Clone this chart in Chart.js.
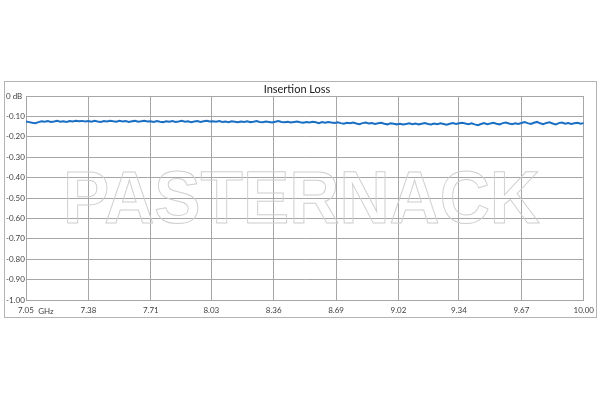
<!DOCTYPE html>
<html><head><meta charset="utf-8">
<script src="https://cdn.jsdelivr.net/npm/chart.js@4/dist/chart.umd.min.js"></script>
<style>html,body{margin:0;padding:0;background:#fff;}canvas{display:block;}</style>
</head><body>
<canvas id="c" width="600" height="400"></canvas>
<script>
const chartTitle = "Insertion Loss";
const watermarkText = "PASTERNACK";
const xUnit = "GHz";
const freqStart = 7.05;
const freqStop = 10.00;
const xTickValues = [7.05, 7.38, 7.71, 8.03, 8.36, 8.69, 9.02, 9.34, 9.67, 10.00];
const xTickLabels = ["7.05", "7.38", "7.71", "8.03", "8.36", "8.69", "9.02", "9.34", "9.67", "10.00"];
const yTickValues = [0, -0.1, -0.2, -0.3, -0.4, -0.5, -0.6, -0.7, -0.8, -0.9, -1.0];
const yTickLabels = ["0 dB", "-0.10", "-0.20", "-0.30", "-0.40", "-0.50", "-0.60", "-0.70", "-0.80", "-0.90", "-1.00"];
const insertionLoss = [
-0.125,-0.128,-0.131,-0.133,-0.128,-0.124,-0.126,-0.123,-0.127,-0.125,-0.122,-0.126,-0.124,-0.127,-0.123,-0.125,-0.121,-0.124,-0.122,-0.125,
-0.123,-0.126,-0.122,-0.125,-0.127,-0.123,-0.125,-0.121,-0.124,-0.126,-0.122,-0.125,-0.123,-0.127,-0.124,-0.122,-0.126,-0.124,-0.121,-0.125,
-0.124,-0.127,-0.123,-0.126,-0.128,-0.124,-0.126,-0.123,-0.127,-0.125,-0.122,-0.126,-0.124,-0.128,-0.125,-0.123,-0.127,-0.124,-0.121,-0.125,
-0.124,-0.126,-0.123,-0.127,-0.125,-0.128,-0.124,-0.126,-0.129,-0.125,-0.127,-0.124,-0.128,-0.126,-0.123,-0.127,-0.129,-0.125,-0.127,-0.130,
-0.126,-0.123,-0.127,-0.129,-0.126,-0.130,-0.127,-0.125,-0.129,-0.131,-0.127,-0.130,-0.126,-0.129,-0.133,-0.128,-0.131,-0.127,-0.130,-0.132,
-0.129,-0.133,-0.136,-0.131,-0.134,-0.130,-0.135,-0.138,-0.133,-0.130,-0.135,-0.132,-0.137,-0.134,-0.131,-0.136,-0.139,-0.134,-0.136,-0.139,
-0.136,-0.140,-0.137,-0.134,-0.138,-0.135,-0.139,-0.136,-0.133,-0.137,-0.140,-0.135,-0.138,-0.134,-0.137,-0.141,-0.136,-0.133,-0.137,-0.134,
-0.131,-0.135,-0.138,-0.134,-0.139,-0.143,-0.137,-0.133,-0.138,-0.135,-0.131,-0.136,-0.139,-0.133,-0.130,-0.135,-0.138,-0.134,-0.137,-0.132,
-0.128,-0.133,-0.137,-0.131,-0.127,-0.134,-0.138,-0.132,-0.129,-0.135,-0.139,-0.133,-0.130,-0.136,-0.132,-0.137,-0.134,-0.131,-0.136,-0.133
];
const points = insertionLoss.map((v, i) => ({
  x: freqStart + (freqStop - freqStart) * i / (insertionLoss.length - 1),
  y: v
}));

const gridColor = '#a6a6a6';
const textColor = '#404040';
const fontFamily = 'Lato, "Open Sans", sans-serif';

const decor = {
  id: 'decor',
  beforeDraw(chart) {
    const ctx = chart.ctx;
    ctx.save();
    ctx.fillStyle = '#fff';
    ctx.fillRect(0, 0, chart.width, chart.height);
    ctx.strokeStyle = '#b4b4b4';
    ctx.lineWidth = 1;
    ctx.strokeRect(4.5, 81.5, 592, 236);
    ctx.restore();
  },
  beforeDatasetsDraw(chart) {
    const ctx = chart.ctx;
    ctx.save();
    ctx.font = 'bold 74px "Liberation Sans", Arial, sans-serif';
    ctx.textBaseline = 'alphabetic';
    const w = ctx.measureText(watermarkText).width;
    const targetW = 477;
    ctx.translate(63, 223);
    ctx.scale(targetW / w, 1);
    ctx.strokeStyle = '#cfcfcf';
    ctx.lineWidth = 1;
    ctx.strokeText(watermarkText, 0, 0);
    ctx.restore();
  },
  afterDraw(chart) {
    const ctx = chart.ctx;
    ctx.save();
    ctx.fillStyle = '#202020';
    ctx.font = '11px ' + fontFamily;
    ctx.textAlign = 'center';
    ctx.textBaseline = 'middle';
    ctx.fillText(chartTitle, 297, 89);
    ctx.fillStyle = textColor;
    ctx.font = '8px ' + fontFamily;
    ctx.fillText(xUnit, 46, 311);
    ctx.restore();
  }
};

new Chart(document.getElementById('c'), {
  type: 'line',
  data: {
    datasets: [{
      data: points,
      borderColor: '#1a6fc2',
      borderWidth: 2,
      pointRadius: 0,
      tension: 0,
      fill: false
    }]
  },
  options: {
    responsive: false,
    animation: false,
    devicePixelRatio: 1,
    layout: { padding: { left: 6, right: 15, top: 96, bottom: 84 } },
    plugins: { legend: { display: false }, title: { display: false }, tooltip: { enabled: false } },
    scales: {
      x: {
        type: 'linear',
        min: freqStart,
        max: freqStop,
        afterBuildTicks(axis) { axis.ticks = xTickValues.map(v => ({ value: v })); },
        afterFit(axis) { axis.height = 16; },
        grid: { color: gridColor, lineWidth: 1, drawTicks: false },
        border: { color: gridColor, width: 1 },
        ticks: {
          autoSkip: false, maxRotation: 0, padding: 6, color: textColor,
          font: { family: fontFamily, size: 8 },
          callback(value) {
            const i = xTickValues.findIndex(v => Math.abs(v - value) < 1e-6);
            return i >= 0 ? xTickLabels[i] : '';
          }
        }
      },
      y: {
        min: -1, max: 0,
        afterBuildTicks(axis) { axis.ticks = yTickValues.map(v => ({ value: v })); },
        afterFit(axis) { axis.width = 20; },
        grid: { color: gridColor, lineWidth: 1, drawTicks: false },
        border: { color: gridColor, width: 1 },
        ticks: {
          crossAlign: 'far', padding: 2, color: textColor,
          font: { family: fontFamily, size: 8 },
          callback(value) {
            const i = yTickValues.findIndex(v => Math.abs(v - value) < 1e-6);
            return i >= 0 ? yTickLabels[i] : '';
          }
        }
      }
    }
  },
  plugins: [decor]
});
</script>
</body></html>
